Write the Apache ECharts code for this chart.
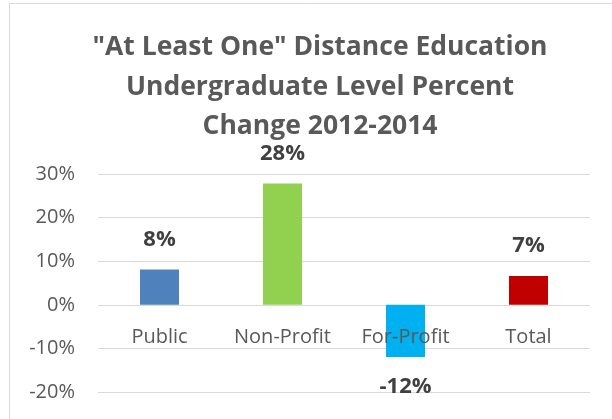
<!DOCTYPE html>
<html>
<head>
<meta charset="utf-8">
<script src="https://cdn.jsdelivr.net/npm/echarts@6/dist/echarts.min.js"></script>
<style>
  html, body { margin: 0; padding: 0; background: #fff; }
  #chart { width: 612px; height: 419px; }
</style>
</head>
<body>
<div id="chart"></div>
<script>
// 数据
var categories = ["Public", "Non-Profit", "For-Profit", "Total"];
var values = [8.1, 27.8, -12, 6.6];
var labels = ["8%", "28%", "-12%", "7%"];
var colors = ["#4F81BD", "#92D050", "#00B0F0", "#C00000"];

var chart = echarts.init(document.getElementById("chart"));

var gridTop = 174, gridBottom = 27;
var plotH = 419 - gridTop - gridBottom;
// x轴标签放在0刻度处
var zeroOffset = -plotH * 20 / 50;

var option = {
    backgroundColor: "#fff",
    animation: false,
    title: {
        text: "\"At Least One\" Distance Education\nUndergraduate Level Percent\nChange 2012-2014",
        left: 315,
        top: 23,
        textAlign: "center",
        textStyle: {
            fontFamily: "Open Sans",
            fontWeight: "bold",
            fontSize: 26.5,
            lineHeight: 39.5,
            color: "#595959"
        }
    },
    graphic: [{
        type: "rect",
        shape: { x: 9.5, y: 3.5, width: 640, height: 440 },
        style: { fill: null, stroke: "#D9D9D9", lineWidth: 1 },
        silent: true
    }],
    grid: {
        left: 98, right: 22, top: gridTop, bottom: gridBottom,
        containLabel: false,
        outerBoundsMode: "none"
    },
    xAxis: {
        type: "category",
        data: categories,
        z: 5,
        offset: zeroOffset,
        axisLine: { onZero: false, show: false },
        axisTick: { show: false },
        axisLabel: {
            interval: 0,
            hideOverlap: false,
            color: "#595959",
            fontFamily: "Open Sans",
            fontSize: 20,
            margin: 22
        }
    },
    yAxis: {
        type: "value",
        min: -20,
        max: 30,
        interval: 10,
        axisLine: { show: false },
        axisTick: { show: false },
        splitLine: { lineStyle: { color: "#D9D9D9" } },
        axisLabel: {
            color: "#595959",
            fontFamily: "Open Sans",
            fontSize: 20,
            margin: 23,
            formatter: function (v) { return v + "%"; }
        }
    },
    series: [{
        type: "bar",
        barWidth: 39,
        data: values.map(function (v, i) {
            return {
                value: v,
                itemStyle: { color: colors[i] },
                label: { formatter: labels[i], position: v < 0 ? "bottom" : "top" }
            };
        }),
        label: {
            show: true,
            distance: 19,
            color: "#404040",
            fontFamily: "Open Sans",
            fontWeight: "bold",
            fontSize: 22
        }
    }]
};

chart.setOption(option);
</script>
</body>
</html>
